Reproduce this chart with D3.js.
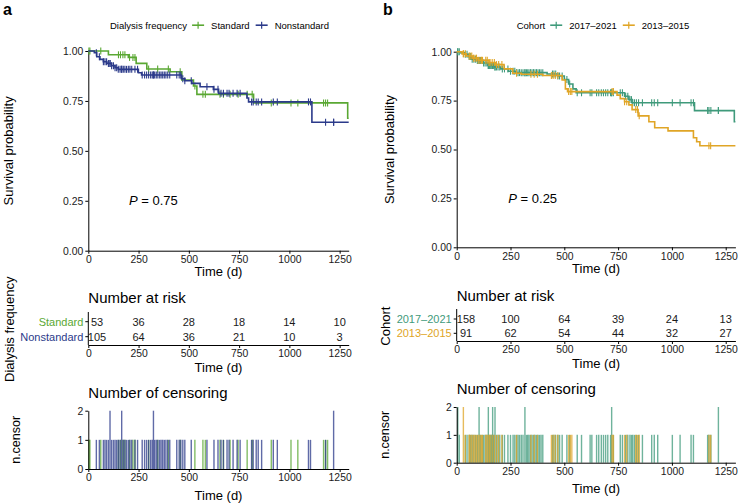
<!DOCTYPE html>
<html>
<head>
<meta charset="utf-8">
<script src="https://cdn.jsdelivr.net/npm/d3@7"></script>
<style>
body { margin: 0; background: #fff; }
svg { font-family: "Liberation Sans", Arial, sans-serif; }
.axis path, .axis line { stroke: #000; stroke-width: 1; }
.axis text { font-size: 10.4px; fill: #1a1a1a; }
</style>
</head>
<body>
<script>
// shared ticks
var timeTicks = [0, 250, 500, 750, 1000, 1250];
var survTicks = [0, 0.25, 0.5, 0.75, 1];
var censTicks = [0, 1, 2];
var timeEnd = 1295;

// panel a : dialysis frequency
var freqNames = ["Standard", "Nonstandard"];
var freqColors = ["#5aa833", "#2b3a8a"];
var stdTime = [0, 100, 199, 238, 291, 407, 465, 523, 540, 822, 1290];
var stdSurv = [1, 0.981, 0.968, 0.938, 0.91, 0.896, 0.855, 0.825, 0.783, 0.74, 0.663];
var nonTime = [0, 30, 42, 58, 75, 92, 116, 133, 149, 249, 265, 463, 480, 515, 556, 622, 648, 789, 797, 1112];
var nonSurv = [1, 0.991, 0.971, 0.958, 0.946, 0.938, 0.926, 0.916, 0.908, 0.891, 0.88, 0.861, 0.851, 0.838, 0.821, 0.808, 0.788, 0.765, 0.745, 0.643];
var stdCens = [3, 8, 62, 150, 160, 172, 182, 205, 222, 232, 300, 345, 398, 457, 530, 570, 582, 655, 672, 705, 745, 790, 815, 910, 1008, 1042, 1170, 1180, 1190];
var nonCens = [40, 55, 75, 83, 91, 100, 108, 108, 116, 125, 133, 141, 149, 158, 166, 166, 174, 182, 190, 199, 207, 216, 232, 245,
  268, 280, 290, 300, 310, 318, 324, 324, 330, 338, 346, 355, 362, 370, 378, 386, 395, 405, 440, 452, 460, 470, 480,
  512, 590, 625, 645, 660, 672, 690, 700, 720, 740, 755,
  812, 820, 835, 845, 862, 920, 940,
  1095, 1105, 1180, 1220, 1220];
var stdRisk = [53, 36, 28, 18, 14, 10];
var nonRisk = [105, 64, 36, 21, 10, 3];

// panel b : cohort
var cohortNames = ["2017\u20132021", "2013\u20132015"];
var cohortColors = ["#3f9a7b", "#e0a526"];
var newTime = [0, 20, 35, 55, 70, 95, 120, 145, 175, 205, 240, 275, 420, 470, 500, 520, 540, 555, 780, 800, 815, 1105, 1290];
var newSurv = [1, 0.994, 0.987, 0.975, 0.962, 0.955, 0.942, 0.93, 0.922, 0.912, 0.9, 0.893, 0.886, 0.876, 0.858, 0.835, 0.81, 0.79, 0.772, 0.755, 0.739, 0.699, 0.642];
var oldTime = [0, 25, 45, 75, 100, 150, 180, 220, 260, 300, 400, 490, 505, 515, 745, 760, 780, 800, 815, 843, 893, 920, 982, 1100, 1115, 1130];
var oldSurv = [1, 0.989, 0.978, 0.967, 0.956, 0.945, 0.934, 0.912, 0.89, 0.885, 0.878, 0.855, 0.81, 0.796, 0.778, 0.76, 0.744, 0.728, 0.704, 0.672, 0.642, 0.611, 0.595, 0.56, 0.54, 0.519];
var newCens = [5, 5, 12, 40, 48, 58, 65, 72, 80, 88, 96, 104, 104, 110, 118, 125, 132, 140, 147, 147, 152, 158, 163, 167, 167, 172, 178, 178, 185, 192, 200, 212, 222, 238,
  250, 262, 270, 278, 285, 292, 300, 308, 317, 317, 324, 330, 336, 343, 350, 357, 364, 371, 378, 385, 392, 400, 445, 452, 460, 470, 478, 490,
  512, 525, 560, 580, 620, 628, 650, 660, 672, 682, 692, 702, 715, 720, 720, 728,
  760, 770, 785, 795, 805, 812, 818, 826, 835, 845, 863, 906, 918, 934,
  1002, 1038, 1089, 1100, 1166, 1172, 1181, 1216, 1216];
var oldCens = [31, 31, 40, 58, 62, 70, 78, 85, 92, 100, 108, 115, 120, 135, 142, 150, 155, 165, 175, 185, 195, 210,
  278, 345, 360, 375, 440, 448, 458, 470,
  520, 528, 535, 722, 728,
  780, 790, 832, 840, 848,
  1172, 1180];
var newRisk = [158, 100, 64, 39, 24, 13];
var oldRisk = [91, 62, 54, 44, 32, 27];

var svg = d3.select("body").append("svg").attr("width", 738).attr("height", 504);

function stepAt(times, surv, t) {
  var i = d3.bisectRight(times, t) - 1;
  return surv[Math.max(i, 0)];
}

function drawPanel(p) {
  var g = svg.append("g");
  var x = d3.scaleLinear().domain([0, timeEnd]).range([p.x0, p.x1]);
  var timeAxis = function() {
    return d3.axisBottom(x).tickValues(timeTicks).tickFormat(d3.format("d")).tickSize(3).tickPadding(2).tickSizeOuter(0);
  };

  // panel letter
  g.append("text").attr("x", p.letterX).attr("y", 15).attr("font-size", 16).attr("font-weight", "bold").text(p.letter);

  // legend
  var lx = p.legendX;
  var t0 = g.append("text").attr("x", lx).attr("y", p.legendY).attr("font-size", 9.5).text(p.strata);
  lx += t0.node().getComputedTextLength() + 5;
  p.groups.forEach(function(gr) {
    var cy = p.legendY - 3.3;
    g.append("line").attr("x1", lx).attr("x2", lx + 12).attr("y1", cy).attr("y2", cy)
      .attr("stroke", gr.color).attr("stroke-width", 1.6);
    g.append("line").attr("x1", lx + 6).attr("x2", lx + 6).attr("y1", cy - 3.5).attr("y2", cy + 3.5)
      .attr("stroke", gr.color).attr("stroke-width", 1.2);
    var t = g.append("text").attr("x", lx + 19).attr("y", p.legendY).attr("font-size", 9.5).text(gr.name);
    lx += 19 + t.node().getComputedTextLength() + 6;
  });

  // survival plot
  var y = d3.scaleLinear().domain([0, 1]).range([p.kmBot, p.kmTop]);
  g.append("g").attr("class", "axis").attr("transform", "translate(0," + p.kmBot + ")").call(timeAxis());
  g.append("g").attr("class", "axis").attr("transform", "translate(" + p.x0 + ",0)")
    .call(d3.axisLeft(y).tickValues(survTicks).tickFormat(d3.format(".2f")).tickSize(3).tickPadding(2).tickSizeOuter(0));

  var line = d3.line().x(function(d) { return x(d[0]); }).y(function(d) { return y(d[1]); }).curve(d3.curveStepAfter);
  p.groups.forEach(function(gr) {
    var pts = gr.time.map(function(t, i) { return [t, gr.surv[i]]; });
    pts.push([timeEnd, gr.surv[gr.surv.length - 1]]);
    g.append("path").datum(pts).attr("d", line).attr("fill", "none")
      .attr("stroke", gr.color).attr("stroke-width", 1.6);
    g.selectAll(null).data(gr.cens).enter().append("line")
      .attr("x1", function(d) { return x(d); }).attr("x2", function(d) { return x(d); })
      .attr("y1", function(d) { return y(stepAt(gr.time, gr.surv, d)) - 3.5; })
      .attr("y2", function(d) { return y(stepAt(gr.time, gr.surv, d)) + 3.5; })
      .attr("stroke", gr.color).attr("stroke-width", 1.1);
  });

  g.append("text").attr("transform", "translate(" + p.ylabX + "," + ((p.kmTop + p.kmBot) / 2) + ") rotate(-90)")
    .attr("text-anchor", "middle").attr("dy", "0.35em").attr("font-size", 13).text("Survival probability");
  g.append("text").attr("x", (p.x0 + p.x1) / 2).attr("y", p.kmTimeY).attr("text-anchor", "middle")
    .attr("font-size", 13).text("Time (d)");
  var pt = g.append("text").attr("x", p.pX).attr("y", p.pY).attr("font-size", 13);
  pt.append("tspan").attr("font-style", "italic").text("P");
  pt.append("tspan").text(" = " + p.pval);

  // number at risk
  g.append("text").attr("x", p.x0).attr("y", p.riskTitleY).attr("font-size", 15).text("Number at risk");
  var yr = d3.scalePoint().domain(p.groups.map(function(d) { return d.name; })).range(p.riskRows);
  g.append("g").attr("class", "axis").attr("transform", "translate(0," + p.riskAxis + ")").call(timeAxis());
  g.append("line").attr("x1", p.x0).attr("x2", p.x0).attr("y1", p.riskTop).attr("y2", p.riskAxis)
    .attr("stroke", "#000").attr("stroke-width", 1);
  p.groups.forEach(function(gr) {
    var ry = yr(gr.name);
    g.append("line").attr("x1", p.x0 - 3).attr("x2", p.x0).attr("y1", ry).attr("y2", ry).attr("stroke", "#000");
    g.append("text").attr("x", p.x0 - 5).attr("y", ry).attr("dy", "0.35em").attr("text-anchor", "end")
      .attr("font-size", 11).attr("fill", gr.color).text(gr.name);
    g.selectAll(null).data(gr.risk).enter().append("text")
      .attr("x", function(d, i) { return x(timeTicks[i]) + (i === 0 ? p.firstShift : 0); })
      .attr("y", ry).attr("dy", "0.35em").attr("text-anchor", "middle").attr("font-size", 11)
      .attr("fill", "#1a1a1a").text(function(d) { return d; });
  });
  g.append("text").attr("x", (p.x0 + p.x1) / 2).attr("y", p.riskTimeY).attr("text-anchor", "middle")
    .attr("font-size", 13).text("Time (d)");
  g.append("text").attr("transform", "translate(" + p.riskLabX + "," + ((p.riskRows[0] + p.riskRows[1]) / 2) + ") rotate(-90)")
    .attr("text-anchor", "middle").attr("dy", "0.35em").attr("font-size", 13).text(p.strata);

  // number of censoring
  g.append("text").attr("x", p.x0).attr("y", p.cenTitleY).attr("font-size", 15).text("Number of censoring");
  var yc = d3.scaleLinear().domain([0, 2]).range([p.cenBot, p.cenTop]);
  p.groups.forEach(function(gr) {
    var counts = d3.rollups(gr.cens, function(v) { return v.length; }, function(d) { return d; });
    g.selectAll(null).data(counts).enter().append("line")
      .attr("x1", function(d) { return x(d[0]); }).attr("x2", function(d) { return x(d[0]); })
      .attr("y1", yc(0)).attr("y2", function(d) { return yc(d[1]); })
      .attr("stroke", gr.color).attr("stroke-width", 1.4).attr("opacity", 0.75);
  });
  g.append("g").attr("class", "axis").attr("transform", "translate(0," + p.cenBot + ")").call(timeAxis());
  g.append("g").attr("class", "axis").attr("transform", "translate(" + p.x0 + ",0)")
    .call(d3.axisLeft(yc).tickValues(censTicks).tickFormat(d3.format("d")).tickSize(3).tickPadding(2).tickSizeOuter(0));
  g.append("text").attr("x", (p.x0 + p.x1) / 2).attr("y", p.cenTimeY).attr("text-anchor", "middle")
    .attr("font-size", 13).text("Time (d)");
  g.append("text").attr("transform", "translate(" + p.cenLabX + "," + ((p.cenTop + p.cenBot) / 2) + ") rotate(-90)")
    .attr("text-anchor", "middle").attr("dy", "0.35em").attr("font-size", 12.5).text("n.censor");
}

drawPanel({
  letter: "a", strata: "Dialysis frequency", pval: "0.75",
  groups: [
    { name: freqNames[0], color: freqColors[0], time: stdTime, surv: stdSurv, cens: stdCens, risk: stdRisk },
    { name: freqNames[1], color: freqColors[1], time: nonTime, surv: nonSurv, cens: nonCens, risk: nonRisk }
  ],
  x0: 88.3, x1: 348.7, kmTop: 51, kmBot: 250.7, letterX: 3, legendX: 110, legendY: 28.5,
  ylabX: 8.5, kmTimeY: 276, pX: 129, pY: 205,
  riskTitleY: 303, riskRows: [321.7, 336.7], riskTop: 312, riskAxis: 345, riskTimeY: 372, riskLabX: 9.5, firstShift: 8.7,
  cenTitleY: 398, cenTop: 410.7, cenBot: 469, cenTimeY: 500, cenLabX: 16
});

drawPanel({
  letter: "b", strata: "Cohort", pval: "0.25",
  groups: [
    { name: cohortNames[0], color: cohortColors[0], time: newTime, surv: newSurv, cens: newCens, risk: newRisk },
    { name: cohortNames[1], color: cohortColors[1], time: oldTime, surv: oldSurv, cens: oldCens, risk: oldRisk }
  ],
  x0: 456.7, x1: 735.4, kmTop: 51.7, kmBot: 247.3, letterX: 383, legendX: 516.7, legendY: 28.5,
  ylabX: 389, kmTimeY: 273, pX: 508.3, pY: 203,
  riskTitleY: 300.5, riskRows: [319, 333.3], riskTop: 309, riskAxis: 341, riskTimeY: 368, riskLabX: 385, firstShift: 9.3,
  cenTitleY: 393.5, cenTop: 407, cenBot: 462.7, cenTimeY: 493, cenLabX: 385
});
</script>
</body>
</html>
